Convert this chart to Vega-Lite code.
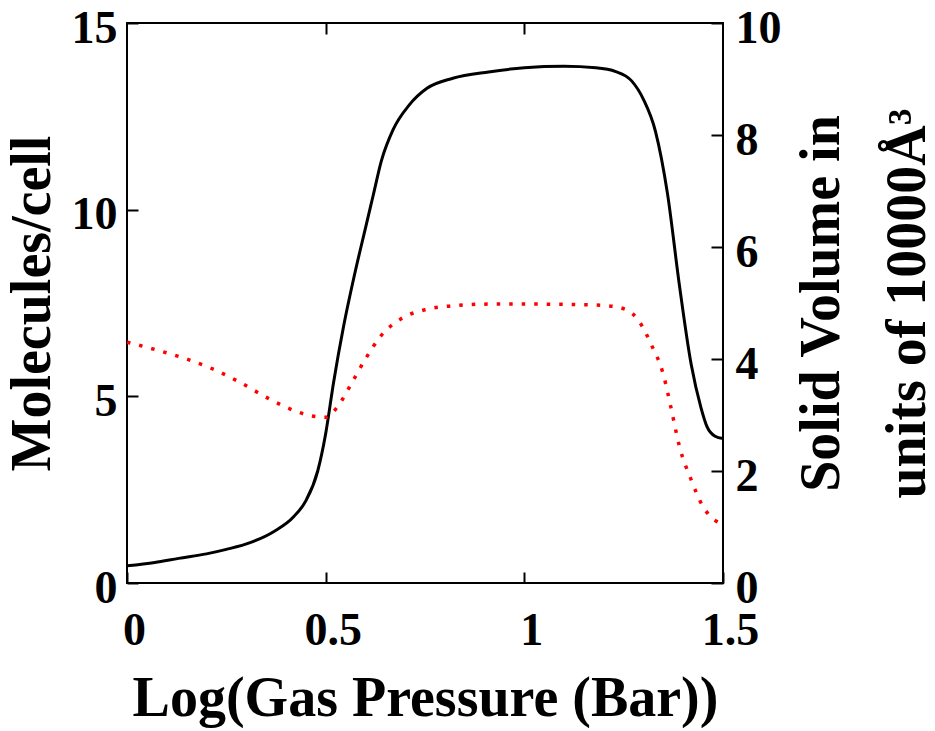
{
  "$schema": "https://vega.github.io/schema/vega-lite/v6.json",
  "width": 596,
  "height": 560,
  "autosize": {"type": "none"},
  "padding": {"left": 127, "top": 23, "right": 212, "bottom": 148},
  "background": "white",
  "config": {
    "view": {"stroke": "black", "strokeWidth": 2},
    "axis": {
      "labelFont": "Liberation Serif",
      "titleFont": "Liberation Serif",
      "labelFontWeight": "bold",
      "titleFontWeight": "bold",
      "labelColor": "black",
      "titleColor": "black",
      "domain": false,
      "grid": false,
      "tickColor": "black",
      "tickWidth": 2,
      "labelFontSize": 46,
      "titleFontSize": 56
    }
  },
  "datasets": {
    "molecules": [
      {"logP": 0.0, "molecules": 0.46},
      {"logP": 0.07, "molecules": 0.55},
      {"logP": 0.13, "molecules": 0.66},
      {"logP": 0.2, "molecules": 0.78},
      {"logP": 0.25, "molecules": 0.9},
      {"logP": 0.31, "molecules": 1.08},
      {"logP": 0.37, "molecules": 1.38},
      {"logP": 0.42, "molecules": 1.78},
      {"logP": 0.45, "molecules": 2.2},
      {"logP": 0.48, "molecules": 3.0},
      {"logP": 0.5, "molecules": 4.0},
      {"logP": 0.52, "molecules": 5.38},
      {"logP": 0.545, "molecules": 6.87},
      {"logP": 0.575, "molecules": 8.37},
      {"logP": 0.6, "molecules": 9.5},
      {"logP": 0.62, "molecules": 10.4},
      {"logP": 0.64, "molecules": 11.3},
      {"logP": 0.67, "molecules": 12.15},
      {"logP": 0.71, "molecules": 12.8},
      {"logP": 0.755, "molecules": 13.25},
      {"logP": 0.82, "molecules": 13.52},
      {"logP": 0.91, "molecules": 13.69},
      {"logP": 1.0, "molecules": 13.8},
      {"logP": 1.1, "molecules": 13.84},
      {"logP": 1.18, "molecules": 13.8},
      {"logP": 1.23, "molecules": 13.7},
      {"logP": 1.27, "molecules": 13.45},
      {"logP": 1.3, "molecules": 12.95},
      {"logP": 1.33, "molecules": 12.1},
      {"logP": 1.36, "molecules": 10.45},
      {"logP": 1.39, "molecules": 8.0},
      {"logP": 1.42, "molecules": 5.85},
      {"logP": 1.445, "molecules": 4.68},
      {"logP": 1.46, "molecules": 4.18},
      {"logP": 1.48, "molecules": 3.93},
      {"logP": 1.5, "molecules": 3.87}
    ],
    "volume": [
      {"logP": 0.0, "volume": 4.3},
      {"logP": 0.07, "volume": 4.17},
      {"logP": 0.15, "volume": 4.0},
      {"logP": 0.21, "volume": 3.84},
      {"logP": 0.28, "volume": 3.6},
      {"logP": 0.36, "volume": 3.28},
      {"logP": 0.42, "volume": 3.08},
      {"logP": 0.46, "volume": 2.99},
      {"logP": 0.5, "volume": 2.96},
      {"logP": 0.53, "volume": 3.15},
      {"logP": 0.56, "volume": 3.5},
      {"logP": 0.6, "volume": 4.0},
      {"logP": 0.64, "volume": 4.42},
      {"logP": 0.69, "volume": 4.72},
      {"logP": 0.75, "volume": 4.88},
      {"logP": 0.82, "volume": 4.95},
      {"logP": 0.91, "volume": 4.98},
      {"logP": 1.03, "volume": 4.98},
      {"logP": 1.15, "volume": 4.97},
      {"logP": 1.21, "volume": 4.95},
      {"logP": 1.26, "volume": 4.87},
      {"logP": 1.29, "volume": 4.66},
      {"logP": 1.32, "volume": 4.25},
      {"logP": 1.35, "volume": 3.72},
      {"logP": 1.37, "volume": 3.1},
      {"logP": 1.39, "volume": 2.45},
      {"logP": 1.42, "volume": 1.84},
      {"logP": 1.45, "volume": 1.36},
      {"logP": 1.48, "volume": 1.12},
      {"logP": 1.5, "volume": 1.05}
    ]
  },
  "layer": [
    {
      "data": {"name": "molecules"},
      "mark": {"type": "line", "color": "black", "strokeWidth": 3, "interpolate": "monotone"},
      "encoding": {
        "x": {
          "field": "logP", "type": "quantitative",
          "scale": {"domain": [0, 1.5], "nice": false},
          "axis": {
            "orient": "bottom", "title": "Log(Gas Pressure (Bar))",
            "values": [0, 0.5, 1, 1.5], "labelExpr": "'' + datum.value",
            "tickSize": -11, "labelPadding": 36, "labelOffset": 7,
            "labelFlush": false, "labelOverlap": false, "titlePadding": 18
          }
        },
        "y": {
          "field": "molecules", "type": "quantitative",
          "scale": {"domain": [0, 15], "nice": false},
          "axis": {
            "orient": "left", "title": "Molecules/cell",
            "values": [0, 5, 10, 15], "tickSize": -11, "labelPadding": 21,
            "labelOffset": 5, "labelFlush": false, "labelOverlap": false, "titlePadding": 10
          }
        }
      }
    },
    {
      "data": {"name": "volume"},
      "mark": {"type": "line", "color": "#ff0000", "strokeWidth": 3.5, "strokeDash": [3.5, 9], "interpolate": "monotone"},
      "encoding": {
        "x": {
          "field": "logP", "type": "quantitative",
          "scale": {"domain": [0, 1.5], "nice": false},
          "axis": {"orient": "top", "values": [0.5, 1], "labels": false, "title": null, "tickSize": -11}
        },
        "y": {
          "field": "volume", "type": "quantitative",
          "scale": {"domain": [0, 10], "nice": false},
          "axis": {
            "orient": "right", "title": ["Solid Volume in", "units of 10000Å³"],
            "values": [0, 2, 4, 6, 8, 10], "tickSize": -12, "labelPadding": 24,
            "labelOffset": 5, "labelFlush": false, "labelOverlap": false,
            "titleAngle": 270, "titleBaseline": "top", "titlePadding": -73, "titleLineHeight": 86
          }
        }
      }
    }
  ],
  "resolve": {"scale": {"y": "independent"}, "axis": {"x": "independent"}}
}
